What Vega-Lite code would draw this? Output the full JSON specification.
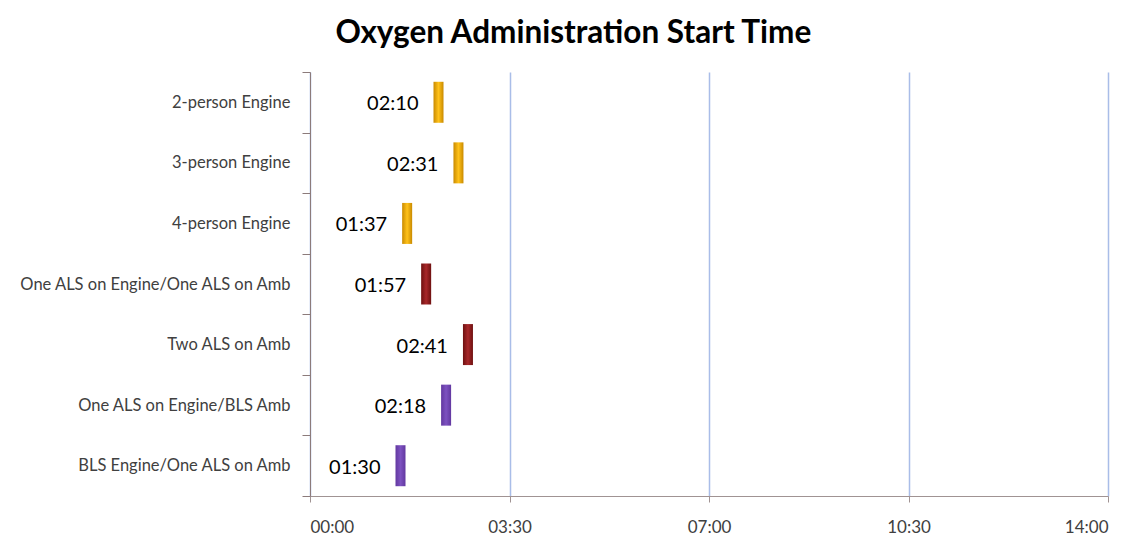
{
  "$schema": "https://vega.github.io/schema/vega-lite/v6.json",
  "width": 798,
  "height": 424,
  "autosize": {"type": "none"},
  "padding": {"left": 310, "top": 72, "right": 19, "bottom": 58},
  "background": "white",
  "config": {"view": {"stroke": null}, "font": "Lato"},
  "title": {
    "text": "Oxygen Administration Start Time",
    "font": "Lato",
    "fontSize": 31.5,
    "fontWeight": "bold",
    "color": "#000000",
    "anchor": "middle",
    "frame": "bounds",
    "dx": 10,
    "offset": 15
  },
  "data": {
    "values": [
      {"config": "2-person Engine", "seconds": 130, "time": "02:10", "group": "Engine"},
      {"config": "3-person Engine", "seconds": 151, "time": "02:31", "group": "Engine"},
      {"config": "4-person Engine", "seconds": 97, "time": "01:37", "group": "Engine"},
      {"config": "One ALS on Engine/One ALS on Amb", "seconds": 117, "time": "01:57", "group": "ALS"},
      {"config": "Two ALS on Amb", "seconds": 161, "time": "02:41", "group": "ALS"},
      {"config": "One ALS on Engine/BLS Amb", "seconds": 138, "time": "02:18", "group": "BLS"},
      {"config": "BLS Engine/One ALS on Amb", "seconds": 90, "time": "01:30", "group": "BLS"}
    ]
  },
  "encoding": {
    "y": {
      "field": "config",
      "type": "nominal",
      "sort": null,
      "scale": {"type": "band", "paddingInner": 0, "paddingOuter": 0},
      "axis": {
        "title": null,
        "tickBand": "extent",
        "domainColor": "#8c7b7b",
        "tickColor": "#8c7b7b",
        "tickSize": 8,
        "labelPadding": 12,
        "labelFontSize": 16.5,
        "labelLimit": 0,
        "labelColor": "#404040",
        "labelFont": "Lato",
        "grid": false
      }
    },
    "x": {
      "field": "seconds",
      "type": "quantitative",
      "scale": {"domain": [0, 840], "nice": false, "zero": true},
      "axis": {
        "title": null,
        "values": [0, 210, 420, 630, 840],
        "labelExpr": "utcFormat(datum.value*1000, '%M:%S')",
        "grid": true,
        "gridColor": "#a9bde8",
        "gridWidth": 1.5,
        "domainColor": "#a09393",
        "tickColor": "#a09393",
        "tickSize": 6,
        "labelPadding": 17,
        "labelFontSize": 17,
        "labelColor": "#404040",
        "labelFont": "Lato"
      }
    }
  },
  "layer": [
    {
      "transform": [{"filter": "datum.group == 'Engine'"}],
      "mark": {
        "type": "tick",
        "orient": "vertical",
        "thickness": 10,
        "size": 41,
        "xOffset": 5,
        "opacity": 1,
        "color": {"gradient": "linear", "x1": 0, "y1": 0, "x2": 1, "y2": 0,
          "stops": [{"offset": 0, "color": "#c98a00"}, {"offset": 0.5, "color": "#ffc21a"}, {"offset": 1, "color": "#c98a00"}]}
      }
    },
    {
      "transform": [{"filter": "datum.group == 'ALS'"}],
      "mark": {
        "type": "tick",
        "orient": "vertical",
        "thickness": 10,
        "size": 41,
        "xOffset": 5,
        "opacity": 1,
        "color": {"gradient": "linear", "x1": 0, "y1": 0, "x2": 1, "y2": 0,
          "stops": [{"offset": 0, "color": "#6e1010"}, {"offset": 0.5, "color": "#a8282a"}, {"offset": 1, "color": "#6e1010"}]}
      }
    },
    {
      "transform": [{"filter": "datum.group == 'BLS'"}],
      "mark": {
        "type": "tick",
        "orient": "vertical",
        "thickness": 10,
        "size": 41,
        "xOffset": 5,
        "opacity": 1,
        "color": {"gradient": "linear", "x1": 0, "y1": 0, "x2": 1, "y2": 0,
          "stops": [{"offset": 0, "color": "#6238a0"}, {"offset": 0.5, "color": "#7d52c0"}, {"offset": 1, "color": "#6238a0"}]}
      }
    },
    {
      "mark": {
        "type": "text",
        "align": "right",
        "baseline": "middle",
        "dx": -15,
        "dy": 2,
        "fontSize": 20,
        "font": "Lato",
        "color": "#000000"
      },
      "encoding": {"text": {"field": "time"}}
    }
  ]
}
